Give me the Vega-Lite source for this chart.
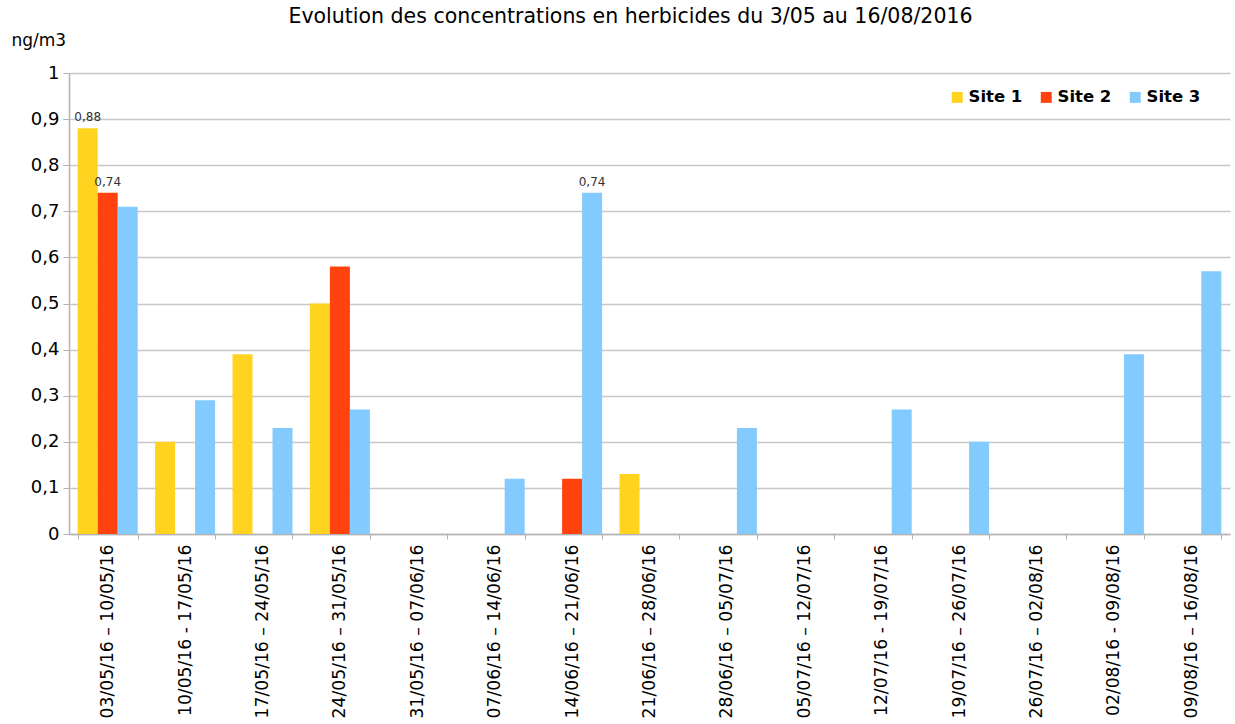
{
  "$schema": "https://vega.github.io/schema/vega-lite/v6.json",
  "width": 1161,
  "height": 461,
  "autosize": "none",
  "padding": {"left": 69, "top": 73, "right": 5, "bottom": 190},
  "background": "white",
  "title": {
    "text": "Evolution des concentrations en herbicides du 3/05 au 16/08/2016",
    "font": "DejaVu Sans",
    "fontSize": 20.5,
    "fontWeight": "normal",
    "color": "#000000",
    "anchor": "middle",
    "frame": "group",
    "dx": -19,
    "baseline": "alphabetic",
    "offset": -12
  },
  "data": {
    "values": [
      {"periode": "03/05/16 – 10/05/16", "site": "Site 1", "valeur": 0.88, "etiquette": "0,88"},
      {"periode": "03/05/16 – 10/05/16", "site": "Site 2", "valeur": 0.74, "etiquette": "0,74"},
      {"periode": "03/05/16 – 10/05/16", "site": "Site 3", "valeur": 0.71, "etiquette": ""},
      {"periode": "10/05/16 - 17/05/16", "site": "Site 1", "valeur": 0.20, "etiquette": ""},
      {"periode": "10/05/16 - 17/05/16", "site": "Site 2", "valeur": 0, "etiquette": ""},
      {"periode": "10/05/16 - 17/05/16", "site": "Site 3", "valeur": 0.29, "etiquette": ""},
      {"periode": "17/05/16 – 24/05/16", "site": "Site 1", "valeur": 0.39, "etiquette": ""},
      {"periode": "17/05/16 – 24/05/16", "site": "Site 2", "valeur": 0, "etiquette": ""},
      {"periode": "17/05/16 – 24/05/16", "site": "Site 3", "valeur": 0.23, "etiquette": ""},
      {"periode": "24/05/16 – 31/05/16", "site": "Site 1", "valeur": 0.50, "etiquette": ""},
      {"periode": "24/05/16 – 31/05/16", "site": "Site 2", "valeur": 0.58, "etiquette": ""},
      {"periode": "24/05/16 – 31/05/16", "site": "Site 3", "valeur": 0.27, "etiquette": ""},
      {"periode": "31/05/16 – 07/06/16", "site": "Site 1", "valeur": 0, "etiquette": ""},
      {"periode": "31/05/16 – 07/06/16", "site": "Site 2", "valeur": 0, "etiquette": ""},
      {"periode": "31/05/16 – 07/06/16", "site": "Site 3", "valeur": 0, "etiquette": ""},
      {"periode": "07/06/16 – 14/06/16", "site": "Site 1", "valeur": 0, "etiquette": ""},
      {"periode": "07/06/16 – 14/06/16", "site": "Site 2", "valeur": 0, "etiquette": ""},
      {"periode": "07/06/16 – 14/06/16", "site": "Site 3", "valeur": 0.12, "etiquette": ""},
      {"periode": "14/06/16 – 21/06/16", "site": "Site 1", "valeur": 0, "etiquette": ""},
      {"periode": "14/06/16 – 21/06/16", "site": "Site 2", "valeur": 0.12, "etiquette": ""},
      {"periode": "14/06/16 – 21/06/16", "site": "Site 3", "valeur": 0.74, "etiquette": "0,74"},
      {"periode": "21/06/16 – 28/06/16", "site": "Site 1", "valeur": 0.13, "etiquette": ""},
      {"periode": "21/06/16 – 28/06/16", "site": "Site 2", "valeur": 0, "etiquette": ""},
      {"periode": "21/06/16 – 28/06/16", "site": "Site 3", "valeur": 0, "etiquette": ""},
      {"periode": "28/06/16 – 05/07/16", "site": "Site 1", "valeur": 0, "etiquette": ""},
      {"periode": "28/06/16 – 05/07/16", "site": "Site 2", "valeur": 0, "etiquette": ""},
      {"periode": "28/06/16 – 05/07/16", "site": "Site 3", "valeur": 0.23, "etiquette": ""},
      {"periode": "05/07/16 – 12/07/16", "site": "Site 1", "valeur": 0, "etiquette": ""},
      {"periode": "05/07/16 – 12/07/16", "site": "Site 2", "valeur": 0, "etiquette": ""},
      {"periode": "05/07/16 – 12/07/16", "site": "Site 3", "valeur": 0, "etiquette": ""},
      {"periode": "12/07/16 -  19/07/16", "site": "Site 1", "valeur": 0, "etiquette": ""},
      {"periode": "12/07/16 -  19/07/16", "site": "Site 2", "valeur": 0, "etiquette": ""},
      {"periode": "12/07/16 -  19/07/16", "site": "Site 3", "valeur": 0.27, "etiquette": ""},
      {"periode": "19/07/16 – 26/07/16", "site": "Site 1", "valeur": 0, "etiquette": ""},
      {"periode": "19/07/16 – 26/07/16", "site": "Site 2", "valeur": 0, "etiquette": ""},
      {"periode": "19/07/16 – 26/07/16", "site": "Site 3", "valeur": 0.20, "etiquette": ""},
      {"periode": "26/07/16 – 02/08/16", "site": "Site 1", "valeur": 0, "etiquette": ""},
      {"periode": "26/07/16 – 02/08/16", "site": "Site 2", "valeur": 0, "etiquette": ""},
      {"periode": "26/07/16 – 02/08/16", "site": "Site 3", "valeur": 0, "etiquette": ""},
      {"periode": "02/08/16 - 09/08/16", "site": "Site 1", "valeur": 0, "etiquette": ""},
      {"periode": "02/08/16 - 09/08/16", "site": "Site 2", "valeur": 0, "etiquette": ""},
      {"periode": "02/08/16 - 09/08/16", "site": "Site 3", "valeur": 0.39, "etiquette": ""},
      {"periode": "09/08/16 – 16/08/16", "site": "Site 1", "valeur": 0, "etiquette": ""},
      {"periode": "09/08/16 – 16/08/16", "site": "Site 2", "valeur": 0, "etiquette": ""},
      {"periode": "09/08/16 – 16/08/16", "site": "Site 3", "valeur": 0.57, "etiquette": ""}
    ]
  },
  "encoding": {
    "x": {
      "field": "periode",
      "type": "nominal",
      "sort": null,
      "scale": {"paddingInner": 0.225, "paddingOuter": 0.1125},
      "axis": {
        "title": null,
        "labelAngle": -90,
        "labelAlign": "right",
        "labelBaseline": "middle",
        "labelFont": "DejaVu Sans",
        "labelFontSize": 17.2,
        "labelColor": "#000000",
        "labelPadding": 5,
        "labelLimit": 300,
        "domainColor": "#b3b3b3",
        "domainWidth": 1.5,
        "tickColor": "#b3b3b3",
        "tickSize": 5,
        "tickBand": "extent",
        "grid": false
      }
    },
    "xOffset": {"field": "site", "type": "nominal", "sort": ["Site 1", "Site 2", "Site 3"]},
    "y": {
      "field": "valeur",
      "type": "quantitative",
      "scale": {"domain": [0, 1]},
      "axis": {
        "title": "ng/m3",
        "titleAngle": 0,
        "titleX": -58,
        "titleY": -33,
        "titleAlign": "left",
        "titleBaseline": "middle",
        "titleFont": "DejaVu Sans",
        "titleFontSize": 17,
        "titleFontWeight": "normal",
        "titleColor": "#000000",
        "values": [0, 0.1, 0.2, 0.3, 0.4, 0.5, 0.6, 0.7, 0.8, 0.9, 1],
        "labelExpr": "replace(format(datum.value, '.1~f'), '.', ',')",
        "labelFont": "DejaVu Sans",
        "labelFontSize": 18,
        "labelColor": "#000000",
        "labelPadding": 4,
        "domainColor": "#b3b3b3",
        "domainWidth": 1.5,
        "tickColor": "#b3b3b3",
        "tickSize": 6,
        "gridColor": "#c8c8c8",
        "gridWidth": 1.5
      }
    }
  },
  "layer": [
    {
      "mark": {"type": "bar"},
      "encoding": {
        "color": {
          "field": "site",
          "type": "nominal",
          "scale": {"domain": ["Site 1", "Site 2", "Site 3"], "range": ["#FFD320", "#FF420E", "#83CAFF"]},
          "legend": {
            "title": null,
            "orient": "none",
            "direction": "horizontal",
            "legendX": 880,
            "legendY": 16,
            "symbolType": "square",
            "symbolSize": 120,
            "symbolStrokeWidth": 0,
            "labelFont": "DejaVu Sans",
            "labelFontSize": 16.5,
            "labelFontWeight": "bold",
            "labelColor": "#000000",
            "labelOffset": 3,
            "columnPadding": 15
          }
        }
      }
    },
    {
      "mark": {"type": "text", "baseline": "bottom", "dy": -4, "font": "DejaVu Sans", "fontSize": 12, "color": "#333333"},
      "encoding": {"text": {"field": "etiquette"}}
    }
  ],
  "config": {"view": {"stroke": null}}
}
